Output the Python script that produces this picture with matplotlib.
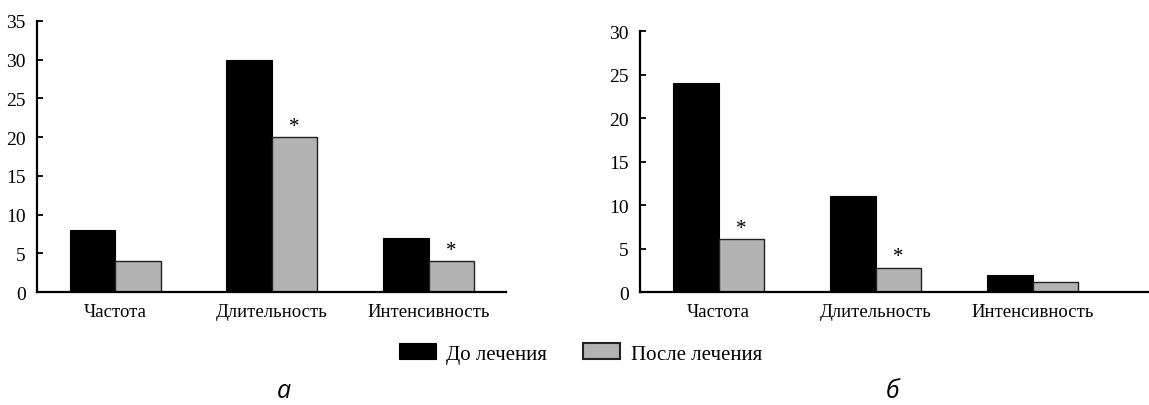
import matplotlib.pyplot as plt
import numpy as np

plt.rcParams['font.family'] = ['Liberation Serif', 'DejaVu Serif']

categories = ['Частота', 'Длительность', 'Интенсивность']
series_names = ['До лечения', 'После лечения']

# panel а
before_a = [8, 30, 7]
after_a = [4, 20, 4]
stars_a = [False, True, True]

# panel б
before_b = [24, 11.1, 2.0]
after_b = [6.1, 2.8, 1.2]
stars_b = [True, True, False]

black = '#000000'
grey = '#b3b3b3'
w = 0.29

fig = plt.figure(figsize=(11.49, 4.06), dpi=100)
ax_a = fig.add_axes([0.032, 0.278, 0.408, 0.668])
ax_b = fig.add_axes([0.557, 0.278, 0.443, 0.643])


def draw(ax, before, after, stars, ymax, xmax):
    x = np.arange(len(categories))
    b1 = ax.bar(x - w / 2, before, w, color=black, edgecolor=black, linewidth=0.8)
    b2 = ax.bar(x + w / 2, after, w, color=grey, edgecolor='#222222', linewidth=1.0)
    for xi, v, s in zip(x, after, stars):
        if s:
            ax.text(xi + w / 2, v + ymax * 0.005, '*', ha='center', va='bottom', fontsize=15)
    ax.set_xlim(-0.5, xmax)
    ax.set_ylim(0, ymax)
    ax.set_yticks(np.arange(0, ymax + 1, 5))
    ax.set_xticks(x)
    ax.set_xticklabels(categories, fontsize=13.5)
    ax.tick_params(axis='y', direction='in', length=4, width=1.3, pad=8, labelsize=14)
    ax.tick_params(axis='x', length=0, pad=8)
    for side in ['top', 'right']:
        ax.spines[side].set_visible(False)
    for side in ['left', 'bottom']:
        ax.spines[side].set_linewidth(1.6)
    return b1, b2


h1, h2 = draw(ax_a, before_a, after_a, stars_a, 35, 2.49)
draw(ax_b, before_b, after_b, stars_b, 30, 2.74)

leg = fig.legend([h1, h2], series_names, loc='center', bbox_to_anchor=(0.505, 0.127),
                 ncol=2, frameon=False, fontsize=15, handlelength=1.8, handleheight=0.8,
                 handletextpad=0.5, columnspacing=1.7)
leg.legend_handles[1].set_edgecolor('#222222')
leg.legend_handles[1].set_linewidth(1.5)

fig.text(0.247, 0.005, 'а', ha='center', va='bottom', fontsize=18, style='italic',
         family=['Open Sans', 'DejaVu Sans'])
fig.text(0.777, 0.005, 'б', ha='center', va='bottom', fontsize=18, style='italic',
         family=['Open Sans', 'DejaVu Sans'])

fig.savefig('out.png', dpi=100)
